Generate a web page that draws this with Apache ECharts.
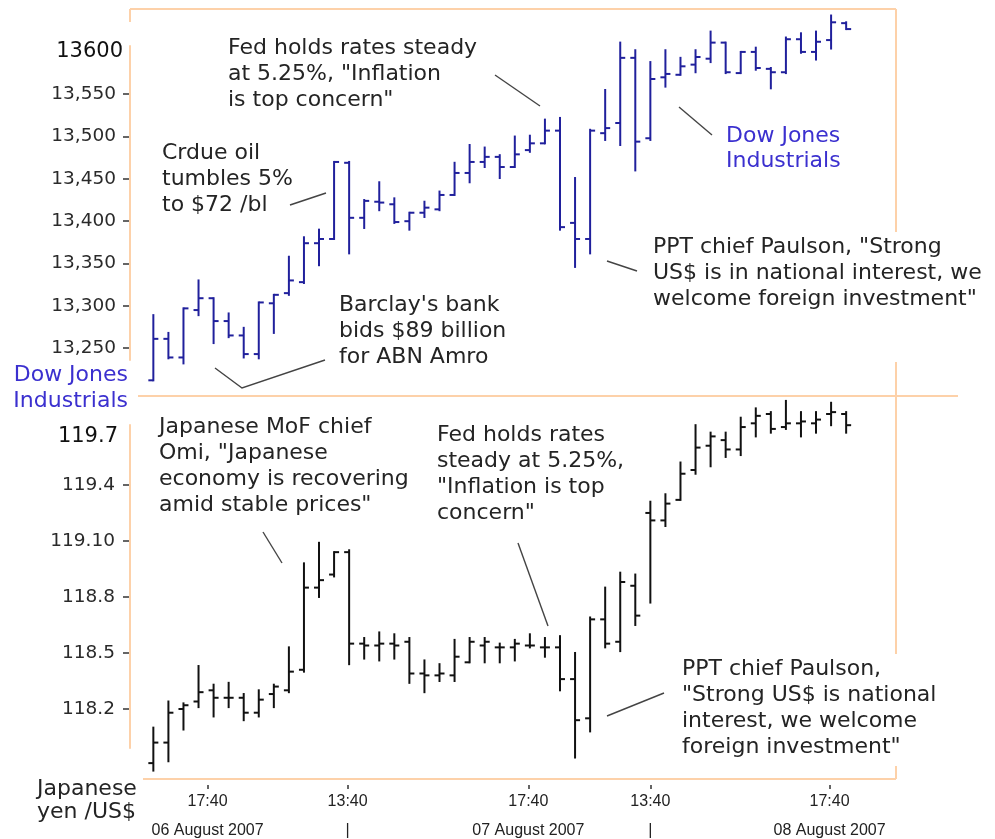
<!DOCTYPE html>
<html><head><meta charset="utf-8">
<script src="https://cdn.jsdelivr.net/npm/echarts@6/dist/echarts.min.js"></script>
<style>html,body{margin:0;padding:0;background:#fff}#c{width:995px;height:839px}</style>
</head><body><div id="c"></div>
<script>
// ---- Dow Jones Industrials (OHLC per bar)
const dowOpen  = [13212,13261,13239,13295,13309,13282,13265,13243,13303,13315,13328,13374,13379,13469,13404,13423,13420,13400,13410,13414,13431,13457,13470,13476,13464,13484,13492,13507,13398,13379,13504,13516,13593,13498,13570,13573,13585,13592,13611,13575,13600,13580,13576,13615,13600,13614,13634];
const dowClose = [13261,13239,13297,13309,13282,13265,13243,13304,13313,13330,13374,13379,13470,13404,13424,13422,13399,13410,13416,13431,13457,13470,13476,13464,13479,13492,13507,13393,13379,13507,13510,13593,13494,13568,13574,13583,13594,13611,13576,13600,13581,13576,13615,13600,13612,13635,13627];
const dowLow   = [13212,13238,13232,13289,13256,13263,13239,13238,13268,13313,13327,13348,13379,13362,13392,13413,13398,13390,13405,13413,13431,13446,13464,13451,13464,13482,13492,13390,13346,13362,13496,13490,13460,13496,13559,13573,13576,13588,13575,13575,13579,13557,13575,13599,13591,13604,13627];
const dowHigh  = [13289,13268,13297,13330,13309,13291,13274,13304,13313,13358,13381,13390,13470,13470,13425,13446,13427,13410,13423,13435,13469,13490,13487,13478,13500,13501,13520,13522,13451,13508,13555,13611,13602,13588,13602,13593,13602,13624,13611,13600,13605,13581,13617,13622,13624,13643,13635];

// ---- Japanese yen / US$ (OHLC per bar)
const yenOpen  = [117.91,118.02,118.20,118.24,118.30,118.26,118.26,118.18,118.28,118.30,118.41,118.85,118.92,119.04,118.55,118.54,118.55,118.56,118.39,118.38,118.38,118.45,118.54,118.53,118.53,118.54,118.53,118.53,118.36,118.15,118.68,118.56,118.86,119.25,119.21,119.32,119.48,119.61,119.64,119.59,119.73,119.78,119.71,119.73,119.73,119.78,119.78];
const yenClose = [118.02,118.18,118.22,118.29,118.26,118.26,118.18,118.25,118.32,118.40,118.85,118.89,119.04,118.55,118.54,118.55,118.54,118.39,118.38,118.39,118.48,118.56,118.56,118.53,118.55,118.54,118.53,118.36,118.14,118.68,118.55,118.88,118.70,119.21,119.30,119.46,119.60,119.66,119.59,119.71,119.77,119.70,119.73,119.74,119.75,119.79,119.72];
const yenLow   = [117.87,117.92,118.09,118.21,118.16,118.21,118.14,118.16,118.21,118.29,118.40,118.80,118.91,118.44,118.47,118.46,118.47,118.34,118.29,118.35,118.35,118.45,118.45,118.45,118.46,118.53,118.48,118.30,117.94,118.08,118.53,118.51,118.65,118.77,119.18,119.32,119.46,119.50,119.55,119.56,119.66,119.68,119.70,119.66,119.68,119.72,119.68];
const yenHigh  = [118.10,118.24,118.23,118.43,118.33,118.34,118.28,118.30,118.33,118.53,118.98,119.09,119.04,119.05,118.58,118.61,118.60,118.58,118.46,118.44,118.57,118.58,118.58,118.55,118.57,118.60,118.58,118.59,118.50,118.69,118.85,118.93,118.92,119.31,119.35,119.52,119.72,119.68,119.68,119.76,119.81,119.79,119.85,119.79,119.79,119.84,119.79];

// ---- axis ticks / labels
const dowTickValues = [13250,13300,13350,13400,13450,13500,13550];
const dowTickLabels = ['13,250','13,300','13,350','13,400','13,450','13,500','13,550'];
const dowTopValue = 13600, dowTopLabel = '13600';
const yenTickValues = [118.2,118.5,118.8,119.1,119.4];
const yenTickLabels = ['118.2','118.5','118.8','119.10','119.4'];
const yenTopValue = 119.7, yenTopLabel = '119.7';
// time-axis label positions, in bar-index units
const timeTickPos = [3.6, 12.9, 24.9, 33.0, 44.9];
const timeTickLabels = ['17:40','13:40','17:40','13:40','17:40'];
const dateLabels = ['06 August 2007','|','07 August 2007','|','08 August 2007'];

const dowData = dowOpen.map((o, i) => [i, o, dowClose[i], dowLow[i], dowHigh[i]]);
const yenData = yenOpen.map((o, i) => [i, o, yenClose[i], yenLow[i], yenHigh[i]]);

const PEACH = '#fdd1a9';
const X_MIN = -1.55, X_MAX = 49.31;

function ohlcRender(color) {
  return function (params, api) {
    const x = api.value(0);
    const o = api.coord([x, api.value(1)]);
    const c = api.coord([x, api.value(2)]);
    const l = api.coord([x, api.value(3)]);
    const h = api.coord([x, api.value(4)]);
    const t = 5;
    const st = { stroke: color, lineWidth: 2 };
    return { type: 'group', children: [
      { type: 'line', shape: { x1: h[0], y1: h[1] - 1, x2: l[0], y2: l[1] + 1 }, style: st },
      { type: 'line', shape: { x1: o[0] - t, y1: o[1], x2: o[0], y2: o[1] }, style: st },
      { type: 'line', shape: { x1: c[0], y1: c[1], x2: c[0] + t, y2: c[1] }, style: st }
    ]};
  };
}
function findIdx(arr, v) { return arr.findIndex(a => Math.abs(a - v) < 1e-6); }

const FONT = '"DejaVu Sans", Verdana, sans-serif';
const TXT = '#242424', BLUE = '#3b30cf';
function txt(x, y, lines, opts) {
  opts = opts || {};
  return { type: 'text', x: x, y: y, z: 10, style: {
    text: lines.join('\n'), font: (opts.size || 22) + 'px ' + FONT,
    fill: opts.color || TXT, lineHeight: opts.lh || 26,
    align: opts.align || 'left', verticalAlign: 'top' } };
}
function seg(x1, y1, x2, y2, color, w) {
  return { type: 'line', z: 1, shape: { x1, y1, x2, y2 }, style: { stroke: color || PEACH, lineWidth: w || 2 } };
}
function lead(points) {
  return { type: 'polyline', z: 5, shape: { points }, style: { stroke: '#444', lineWidth: 1.4, fill: null } };
}

const chart = echarts.init(document.getElementById('c'), null, { renderer: 'canvas' });
chart.setOption({
  animation: false,
  backgroundColor: '#fff',
  grid: [
    { left: 130, right: 99, top: 46, bottom: 479, outerBoundsMode: 'none', containLabel: false },
    { left: 130, right: 99, top: 425, bottom: 91, outerBoundsMode: 'none', containLabel: false }
  ],
  xAxis: [
    { gridIndex: 0, type: 'value', min: X_MIN, max: X_MAX, show: false },
    { gridIndex: 1, type: 'value', min: X_MIN, max: X_MAX, offset: 37,
      axisLine: { show: false, onZero: false }, splitLine: { show: false },
      axisTick: { show: true, customValues: timeTickPos, length: 4, lineStyle: { color: '#333', width: 1.5 } },
      axisLabel: { customValues: timeTickPos, margin: 2, lineHeight: 29, fontSize: 16,
        fontFamily: '"Liberation Sans", Arial, sans-serif', color: '#222',
        formatter: v => { const i = findIdx(timeTickPos, v); return i < 0 ? '' : timeTickLabels[i] + '\n' + dateLabels[i]; } } }
  ],
  yAxis: [
    { gridIndex: 0, type: 'value', min: 13236, max: 13607,
      axisLine: { show: true, onZero: false, lineStyle: { color: PEACH, width: 2 } },
      splitLine: { show: false },
      axisTick: { show: true, customValues: dowTickValues, length: 7, lineStyle: { color: '#333', width: 1.5 } },
      axisLabel: { customValues: dowTickValues.concat([dowTopValue]), margin: 7,
        formatter: v => { if (Math.abs(v - dowTopValue) < 1e-6) return '{t|' + dowTopLabel + '}';
          const i = findIdx(dowTickValues, v); return i < 0 ? '' : '{n|' + dowTickLabels[i] + '}'; },
        rich: { n: { fontSize: 18.5, fontFamily: FONT, color: '#2a2a2a', padding: [0, 7, 0, 0] },
                t: { fontSize: 21, fontFamily: FONT, color: '#111', padding: [0, 0, 0, 0] } } } },
    { gridIndex: 1, type: 'value', min: 117.991, max: 119.721,
      axisLine: { show: true, onZero: false, lineStyle: { color: PEACH, width: 2 } },
      splitLine: { show: false },
      axisTick: { show: true, customValues: yenTickValues, length: 7, lineStyle: { color: '#333', width: 1.5 } },
      axisLabel: { customValues: yenTickValues.concat([yenTopValue]), margin: 7,
        formatter: v => { if (Math.abs(v - yenTopValue) < 1e-6) return '{t|' + yenTopLabel + '}';
          const i = findIdx(yenTickValues, v); return i < 0 ? '' : '{n|' + yenTickLabels[i] + '}'; },
        rich: { n: { fontSize: 18.5, fontFamily: FONT, color: '#2a2a2a', padding: [0, 8, 0, 0] },
                t: { fontSize: 21, fontFamily: FONT, color: '#111', padding: [16, 5, 0, 0] } } } }
  ],
  series: [
    { type: 'custom', name: 'Dow Jones Industrials', xAxisIndex: 0, yAxisIndex: 0, clip: false,
      renderItem: ohlcRender('#20209c'), encode: { x: 0, y: [1, 2, 3, 4] }, data: dowData, silent: true },
    { type: 'custom', name: 'Japanese yen /US$', xAxisIndex: 1, yAxisIndex: 1, clip: false,
      renderItem: ohlcRender('#111111'), encode: { x: 0, y: [1, 2, 3, 4] }, data: yenData, silent: true }
  ],
  graphic: [
    // frame lines
    seg(130, 9, 896, 9), seg(130, 9, 130, 22),
    seg(130, 46, 130, 360), seg(130, 425, 130, 748),
    seg(896, 9, 896, 232), seg(896, 362, 896, 654), seg(896, 766, 896, 779),
    seg(138, 396, 958, 396), seg(143, 779, 896, 779),
    // leader lines
    lead([[495, 75], [540, 106]]),
    lead([[290, 205], [326, 193]]),
    lead([[215, 368], [242, 388], [325, 360]]),
    lead([[679, 107], [712, 135]]),
    lead([[607, 261], [637, 271]]),
    lead([[263, 532], [282, 563]]),
    lead([[518, 543], [548, 626]]),
    lead([[607, 716], [664, 693]]),
    // annotations
    txt(228, 35, ['Fed holds rates steady', 'at 5.25%, "Inflation', 'is top concern"']),
    txt(162, 140, ['Crdue oil', 'tumbles 5%', 'to $72 /bl']),
    txt(339, 292, ["Barclay's bank", 'bids $89 billion', 'for ABN Amro']),
    txt(726, 124, ['Dow Jones', 'Industrials'], { color: BLUE, lh: 25 }),
    txt(653, 234, ['PPT chief Paulson, "Strong', 'US$ is in national interest, we', 'welcome foreign investment"']),
    txt(128, 362, ['Dow Jones', 'Industrials'], { color: BLUE, align: 'right' }),
    txt(159, 414, ['Japanese MoF chief', 'Omi, "Japanese', 'economy is recovering', 'amid stable prices"']),
    txt(437, 422, ['Fed holds rates', 'steady at 5.25%,', '"Inflation is top', 'concern"']),
    txt(682, 656, ['PPT chief Paulson,', '"Strong US$ is national', 'interest, we welcome', 'foreign investment"']),
    txt(37, 778, ['Japanese', 'yen /US$'], { lh: 23 })
  ]
});
</script></body></html>
